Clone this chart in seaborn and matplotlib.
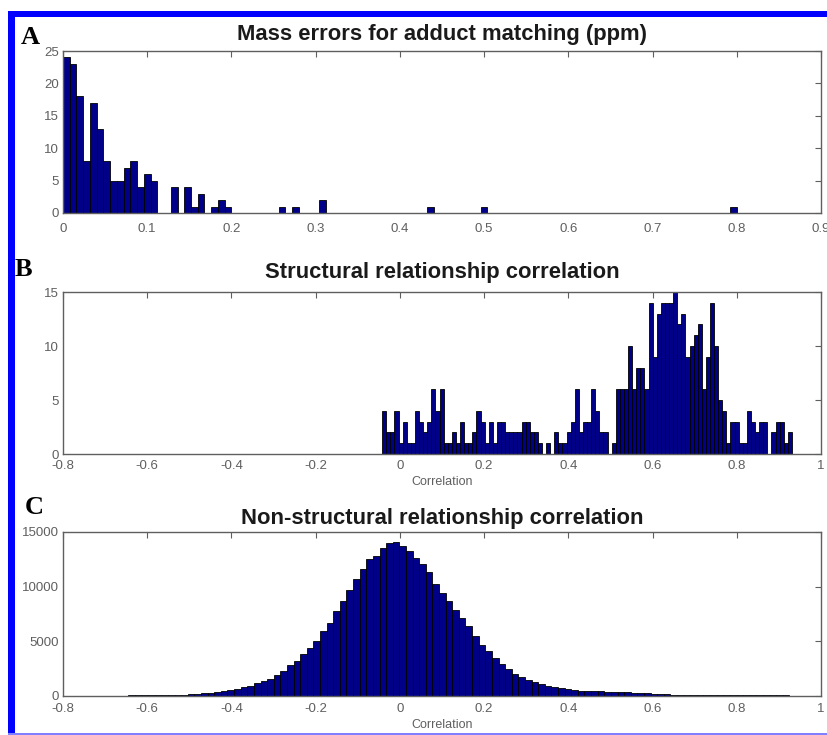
import numpy as np
import pandas as pd
import matplotlib
matplotlib.use("Agg")
import matplotlib.pyplot as plt
from matplotlib.patches import Rectangle
import seaborn as sns

# ---------------- data ----------------
# Panel A: mass errors (ppm), 100 bins from 0 to 0.8
A_lo, A_hi = 0.0, 0.8
A_counts = [24, 23, 18, 8, 17, 13, 8, 5, 5, 7, 8, 4, 6, 5, 0, 0, 4, 0, 4, 1,
            3, 0, 1, 2, 1, 0, 0, 0, 0, 0, 0, 0, 1, 0, 1, 0, 0, 0, 2, 0,
            0, 0, 0, 0, 0, 0, 0, 0, 0, 0, 0, 0, 0, 0, 1, 0, 0, 0, 0, 0,
            0, 0, 1, 0, 0, 0, 0, 0, 0, 0, 0, 0, 0, 0, 0, 0, 0, 0, 0, 0,
            0, 0, 0, 0, 0, 0, 0, 0, 0, 0, 0, 0, 0, 0, 0, 0, 0, 0, 0, 1]
A_xticks = [0, 0.1, 0.2, 0.3, 0.4, 0.5, 0.6, 0.7, 0.8, 0.9]
A_xticklabels = ["0", "0.1", "0.2", "0.3", "0.4", "0.5", "0.6", "0.7", "0.8", "0.9"]
A_yticks = [0, 5, 10, 15, 20, 25]

# Panel B: structural relationship correlation, 100 bins
B_lo, B_hi = -0.042, 0.931
B_counts = [4, 2, 2, 4, 1, 3, 1, 1, 4, 3, 2, 3, 6, 4, 6, 1, 1, 2, 1, 3,
            1, 1, 2, 4, 3, 1, 3, 1, 3, 3, 2, 2, 2, 2, 3, 3, 2, 2, 1, 0,
            1, 0, 2, 1, 1, 2, 3, 6, 2, 3, 3, 6, 4, 2, 2, 0, 1, 6, 6, 6,
            10, 6, 8, 8, 6, 14, 9, 13, 14, 14, 14, 15, 12, 13, 9, 10, 11, 12, 6, 9,
            14, 10, 5, 4, 1, 3, 3, 1, 1, 4, 3, 2, 3, 3, 0, 2, 3, 3, 1, 2]
B_yticks = [0, 5, 10, 15]

# Panel C: non-structural relationship correlation, 100 bins
C_lo, C_hi = -0.645, 0.925
C_counts = [90, 90, 90, 90, 90, 90, 90, 100, 120, 150,
            190, 240, 300, 380, 460, 560, 680, 820, 950, 1150,
            1350, 1600, 1900, 2300, 2800, 3200, 3800, 4400, 5000, 5900,
            6700, 7800, 8700, 9700, 10700, 11600, 12500, 12800, 13550, 14000,
            14100, 13700, 13250, 12650, 12050, 11300, 10200, 9450, 8700, 7900,
            7150, 6400, 5500, 4700, 4100, 3500, 2900, 2450, 2000, 1700,
            1450, 1280, 1070, 900, 820, 700, 620, 560, 500, 470,
            440, 420, 390, 370, 350, 330, 300, 280, 260, 220,
            190, 160, 110, 100, 100, 100, 100, 100, 100, 100,
            100, 100, 100, 100, 100, 100, 100, 100, 100, 100]
C_yticks = [0, 5000, 10000, 15000]

corr_xticks = [-0.8, -0.6, -0.4, -0.2, 0, 0.2, 0.4, 0.6, 0.8, 1]
corr_xticklabels = ["-0.8", "-0.6", "-0.4", "-0.2", "0", "0.2", "0.4", "0.6", "0.8", "1"]

titles = ["Mass errors for adduct matching (ppm)",
          "Structural relationship correlation",
          "Non-structural relationship correlation"]
letters = ["A", "B", "C"]

# ---------------- style ----------------
sns.set_style("white")
plt.rcParams["font.family"] = ["Liberation Sans", "DejaVu Sans"]

BAR = "#000088"
GRAY = "#5f5f5f"

fig = plt.figure(figsize=(8.27, 7.35), dpi=100)
W, H = 827.0, 735.0


def box(l, t, r, b):
    return [l / W, 1 - b / H, (r - l) / W, (b - t) / H]


axA = fig.add_axes(box(63, 51, 821, 213))
axB = fig.add_axes(box(63, 292, 821, 454))
axC = fig.add_axes(box(63, 532, 821, 696))


def hist(ax, lo, hi, counts):
    edges = np.linspace(lo, hi, len(counts) + 1)
    centers = (edges[:-1] + edges[1:]) / 2
    df = pd.DataFrame({"value": centers, "count": np.asarray(counts, dtype=float)})
    sns.histplot(data=df, x="value", weights="count", bins=list(edges), ax=ax,
                 color=BAR, edgecolor="black", linewidth=0.6, alpha=1.0)


hist(axA, A_lo, A_hi, A_counts)
hist(axB, B_lo, B_hi, B_counts)
hist(axC, C_lo, C_hi, C_counts)

axA.set_xlim(0, 0.9)
axA.set_ylim(0, 25)
axA.set_xticks(A_xticks)
axA.set_xticklabels(A_xticklabels)
axA.set_yticks(A_yticks)

axB.set_xlim(-0.8, 1)
axB.set_ylim(0, 15)
axB.set_xticks(corr_xticks)
axB.set_xticklabels(corr_xticklabels)
axB.set_yticks(B_yticks)

axC.set_xlim(-0.8, 1)
axC.set_ylim(0, 15000)
axC.set_xticks(corr_xticks)
axC.set_xticklabels(corr_xticklabels)
axC.set_yticks(C_yticks)

for ax, title, tpad, xpad in zip([axA, axB, axC], titles, [8, 10, 6], [7, 4, 5]):
    ax.set_ylabel("")
    ax.set_xlabel("")
    ax.set_title(title, fontsize=15.8, fontweight="bold", color="#1a1a1a", pad=tpad)
    for s in ax.spines.values():
        s.set_visible(True)
        s.set_color(GRAY)
        s.set_linewidth(1.0)
    ax.tick_params(direction="in", top=True, right=True, length=4, width=0.8,
                   color=GRAY, labelcolor=GRAY, labelsize=9.5, pad=3)
    ax.tick_params(axis="x", pad=xpad)

for ax in [axB, axC]:
    ax.set_xlabel("Correlation", fontsize=9, color=GRAY, labelpad=3)

# panel letters
for letter, (x, y) in zip(letters, [(30, 38), (23, 270), (34, 507)]):
    fig.text(x / W, 1 - y / H, letter, fontsize=19, fontweight="bold",
             family=["Liberation Serif", "DejaVu Serif"], ha="center", va="center",
             color="black")

# blue frame
fig.add_artist(Rectangle((8 / W, 1 - 735 / H), 7 / W, (735 - 11) / H,
                         transform=fig.transFigure, color="#0000ff", lw=0))
fig.add_artist(Rectangle((8 / W, 1 - 17 / H), (W - 8) / W, 6 / H,
                         transform=fig.transFigure, color="#0000ff", lw=0))
fig.add_artist(Rectangle((8 / W, 1 - 734.5 / H), (W - 8) / W, 1.5 / H,
                         transform=fig.transFigure, color="#7f7fff", lw=0))

fig.savefig("out.png", dpi=100)
